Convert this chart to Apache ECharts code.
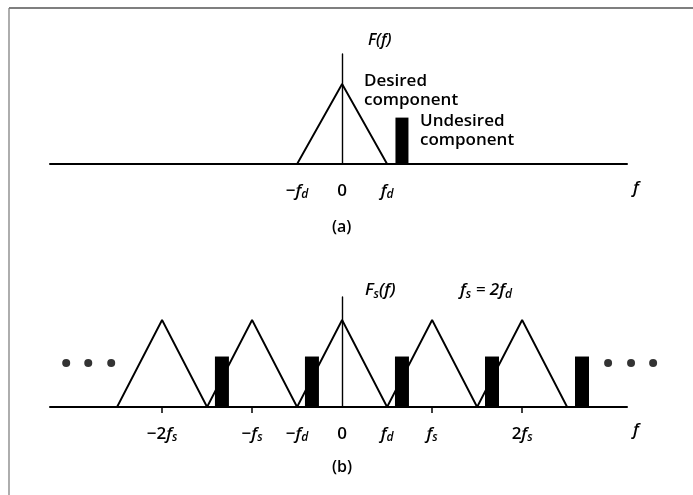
<!DOCTYPE html>
<html>
<head>
<meta charset="utf-8">
<script src="https://cdn.jsdelivr.net/npm/echarts@6/dist/echarts.min.js"></script>
<style>
  html, body { margin: 0; padding: 0; background: #fff; }
  #chart { width: 693px; height: 495px; }
</style>
</head>
<body>
<div id="chart"></div>
<script>
// frequencies are in units of f_d (f_s = 2 f_d)
var xRange = [-6.49, 6.33];

// (a) spectrum of the continuous signal
var desiredA = [[-1, 0], [0, 1], [1, 0]];
var undesiredA = [[1.33, 0.58]];
var tickValuesA = [-1, 0, 1];
var tickLabelsA = ['−f_d', '0', 'f_d'];

// (b) spectrum after sampling
var replicaCenters = [-4, -2, 0, 2, 4];
var aliasPositions = [-2.67, -0.67, 1.33, 3.33, 5.33];
var aliasHeight = 0.58;
var dotsLeft = [-6.13, -5.64, -5.13];
var dotsRight = [5.91, 6.42, 6.91];
var dotLevel = 0.506;
var tickMarksB = [-4, -2, 2, 4];
var tickValuesB = [-4, -2, -1, 0, 1, 2, 4];
var tickLabelsB = ['−2f_s', '−f_s', '−f_d', '0', 'f_d', 'f_s', '2f_s'];

var FONT = '"Open Sans", "DejaVu Sans", sans-serif';

// zig-zag through the replicas: each triangle has half width f_d, peak 1
var replicaLine = [];
replicaCenters.forEach(function (c, i) {
    if (i === 0) replicaLine.push([c - 1, 0]);
    replicaLine.push([c, 1]);
    replicaLine.push([c + 1, 0]);
});

function richLabel(txt) {
    // 'f_d' -> italic f with subscript d
    var out = '';
    var re = /f_(\w)/g, last = 0, m;
    while ((m = re.exec(txt)) !== null) {
        if (m.index > last) out += '{n|' + txt.slice(last, m.index) + '}';
        out += '{i|f}{s|' + m[1] + '}';
        last = re.lastIndex;
    }
    if (last < txt.length) out += '{n|' + txt.slice(last) + '}';
    return out;
}

var richStyles = {
    n: { fontFamily: FONT, fontSize: 17, fontWeight: 600, color: '#000', lineHeight: 20 },
    i: { fontFamily: FONT, fontSize: 17, fontWeight: 600, fontStyle: 'italic', color: '#000', lineHeight: 20 },
    s: { fontFamily: FONT, fontSize: 12, fontWeight: 600, fontStyle: 'italic', color: '#000', lineHeight: 13, verticalAlign: 'bottom' }
};

function labelFor(values, labels) {
    return function (v) {
        var k = values.indexOf(Math.round(v * 100) / 100);
        return k < 0 ? '' : richLabel(labels[k]);
    };
}

var chartDom = document.getElementById('chart');
var myChart = echarts.init(chartDom);

var option = {
    backgroundColor: '#fff',
    animation: false,
    grid: [
        { left: 50, right: 66, top: 54, height: 110 },
        { left: 50, right: 66, top: 297, height: 110 }
    ],
    xAxis: [
        {
            gridIndex: 0, type: 'value', min: xRange[0], max: xRange[1],
            axisLine: { onZero: true, lineStyle: { color: '#000', width: 2 } },
            axisTick: { show: false },
            splitLine: { show: false },
            axisLabel: {
                customValues: tickValuesA, margin: 17,
                formatter: labelFor(tickValuesA, tickLabelsA), rich: richStyles
            }
        },
        {
            gridIndex: 1, type: 'value', min: xRange[0], max: xRange[1],
            axisLine: { onZero: true, lineStyle: { color: '#000', width: 2 } },
            axisTick: { show: true, customValues: tickMarksB, length: 6, lineStyle: { color: '#000', width: 1.5 } },
            splitLine: { show: false },
            axisLabel: {
                customValues: tickValuesB, margin: 17,
                formatter: labelFor(tickValuesB, tickLabelsB), rich: richStyles
            }
        }
    ],
    yAxis: [
        {
            gridIndex: 0, type: 'value', min: 0, max: 1.375,
            axisLine: { show: true, onZero: true, lineStyle: { color: '#000', width: 1.4 } },
            axisTick: { show: false }, axisLabel: { show: false }, splitLine: { show: false }
        },
        {
            gridIndex: 1, type: 'value', min: 0, max: 1.264,
            axisLine: { show: true, onZero: true, lineStyle: { color: '#000', width: 1.4 } },
            axisTick: { show: false }, axisLabel: { show: false }, splitLine: { show: false }
        }
    ],
    series: [
        {
            name: 'Desired component', type: 'line', xAxisIndex: 0, yAxisIndex: 0,
            data: desiredA, symbol: 'none',
            lineStyle: { color: '#000', width: 1.9 }
        },
        {
            name: 'Undesired component', type: 'bar', xAxisIndex: 0, yAxisIndex: 0,
            data: undesiredA, barWidth: 13,
            itemStyle: { color: '#000' }
        },
        {
            name: 'replicas', type: 'line', xAxisIndex: 1, yAxisIndex: 1,
            data: replicaLine, symbol: 'none',
            lineStyle: { color: '#000', width: 1.9 }
        },
        {
            name: 'aliases', type: 'bar', xAxisIndex: 1, yAxisIndex: 1,
            data: aliasPositions.map(function (x) { return [x, aliasHeight]; }),
            barWidth: 14, itemStyle: { color: '#000' }
        },
        {
            name: 'dots', type: 'scatter', xAxisIndex: 1, yAxisIndex: 1, clip: false,
            data: dotsLeft.concat(dotsRight).map(function (x) { return [x, dotLevel]; }),
            symbolSize: 8, itemStyle: { color: '#000' }
        }
    ],
    graphic: [
        // scanned page frame
        { type: 'line', shape: { x1: 9, y1: 8, x2: 693, y2: 8 }, style: { stroke: '#555', lineWidth: 1.5 } },
        { type: 'line', shape: { x1: 9, y1: 8, x2: 9, y2: 495 }, style: { stroke: '#777', lineWidth: 1.2 } },
        { type: 'text', left: 368, top: 32, style: { text: 'F(f)', font: 'italic 600 16px ' + FONT, fill: '#000' } },
        { type: 'text', left: 364, top: 72, style: { text: 'Desired\ncomponent', font: '600 17px ' + FONT, lineHeight: 19, fill: '#000' } },
        { type: 'text', left: 420, top: 112, style: { text: 'Undesired\ncomponent', font: '600 17px ' + FONT, lineHeight: 19, fill: '#000' } },
        { type: 'text', left: 633, top: 180, style: { text: 'f', font: 'italic 600 17px ' + FONT, fill: '#000' } },
        { type: 'text', left: 332, top: 219, style: { text: '(a)', font: '600 16px ' + FONT, fill: '#000' } },
        {
            type: 'text', left: 365, top: 282,
            style: { text: '{i|F}{s|s}{i|(f)}', rich: richStyles, fill: '#000' }
        },
        {
            type: 'text', left: 460, top: 282,
            style: { text: '{i|f}{s|s}{i| = 2f}{s|d}', rich: richStyles, fill: '#000' }
        },
        { type: 'text', left: 633, top: 422, style: { text: 'f', font: 'italic 600 17px ' + FONT, fill: '#000' } },
        { type: 'text', left: 332, top: 459, style: { text: '(b)', font: '600 16px ' + FONT, fill: '#000' } }
    ]
};

option && myChart.setOption(option);
new ResizeObserver(() => myChart.resize()).observe(chartDom);
</script>
</body>
</html>
